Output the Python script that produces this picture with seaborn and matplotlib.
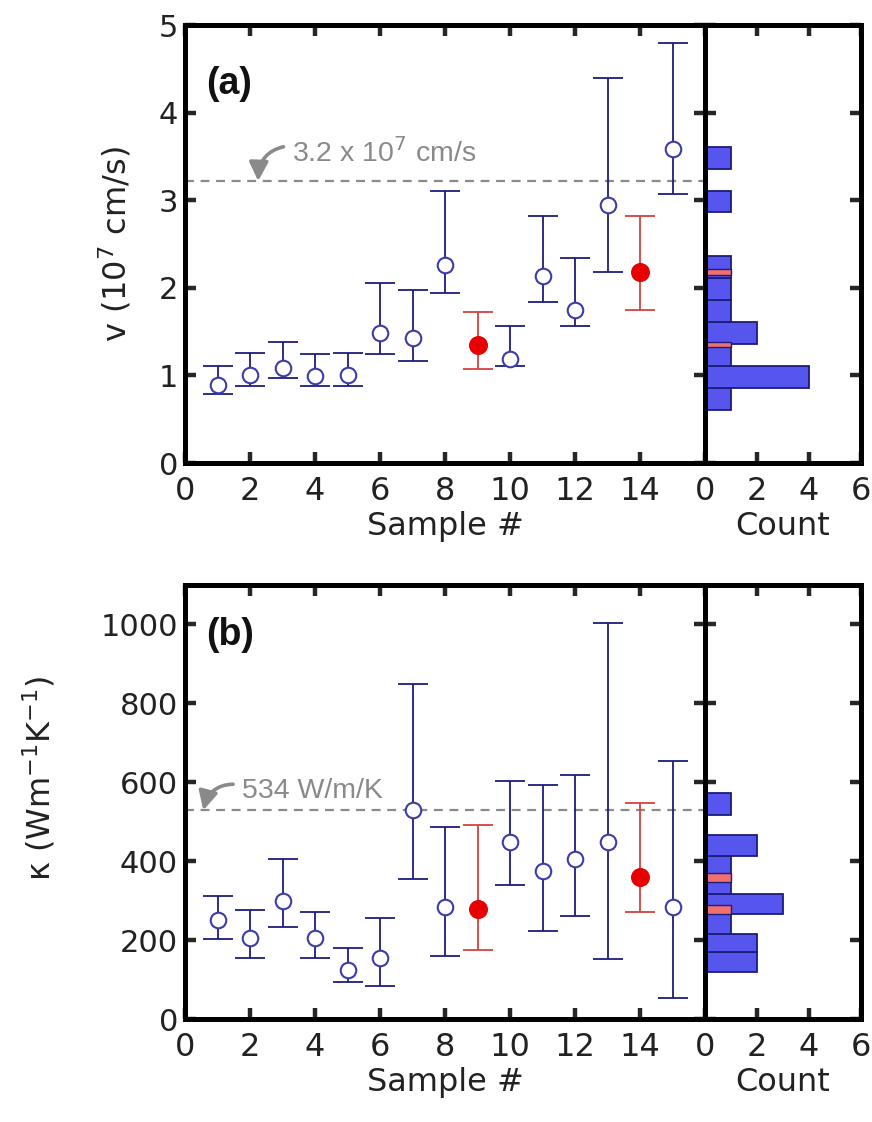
import matplotlib
matplotlib.use("Agg")
import matplotlib.pyplot as plt
import seaborn as sns
import numpy as np
import pandas as pd

# samples
sample = list(range(1, 16))
is_red = [False] * 8 + [True] + [False] * 4 + [True] + [False]

# (a) velocity, 10^7 cm/s
v = [0.89, 1.00, 1.09, 0.99, 1.00, 1.48, 1.43, 2.26, 1.35, 1.19, 2.13, 1.75, 2.95, 2.18, 3.58]
v_hi = [1.11, 1.26, 1.38, 1.24, 1.26, 2.05, 1.97, 3.10, 1.72, 1.56, 2.82, 2.34, 4.39, 2.82, 4.80]
v_lo = [0.79, 0.88, 0.97, 0.88, 0.88, 1.24, 1.16, 1.94, 1.07, 1.11, 1.84, 1.57, 2.18, 1.75, 3.07]
v_ref = 3.22

# (b) thermal conductivity, W/m/K
k = [251, 206, 300, 206, 125, 155, 529, 285, 278, 449, 374, 406, 449, 359, 285]
k_hi = [312, 276, 406, 271, 179, 257, 848, 487, 491, 604, 593, 619, 1003, 548, 654]
k_lo = [202, 155, 232, 155, 94, 84, 355, 159, 176, 340, 223, 261, 151, 272, 53]
k_ref = 529

# histograms (blue samples only)
v_edges = [0.61, 0.86, 1.11, 1.36, 1.61, 1.86, 2.11, 2.36, 2.61, 2.86, 3.11, 3.36, 3.61]
v_counts = [1, 4, 1, 2, 1, 1, 1, 0, 0, 1, 0, 1]
k_edges = [118, 170, 216, 265, 317, 366, 414, 467, 516, 574]
k_counts = [2, 2, 1, 3, 1, 1, 2, 0, 1]

sns.set_theme(style="ticks")
plt.rcParams['font.family'] = ['DejaVu Sans']
plt.rcParams['mathtext.fontset'] = 'dejavusans'

NAVY = "#1c1c7a"
CIRC = "#3c3ca8"
RED = "#e60000"
RED_BAR = "#d84040"
HIST = "#5656ee"
STRIPE = "#f07070"
GRAY = "#8a8a8a"
TXT = "#222222"
XFS = 23
YFS = 22
LFS = 23

fig = plt.figure(figsize=(8.72, 11.22), dpi=100)

def style(ax):
    for s in ax.spines.values():
        s.set_linewidth(3.6)
        s.set_color("black")
    ax.tick_params(direction="in", top=True, right=True, length=8, width=3.2,
                   labelcolor=TXT)
    ax.tick_params(axis="x", pad=9, labelsize=XFS)
    ax.tick_params(axis="y", pad=5, labelsize=YFS)

def main_panel(ax, y, lo, hi, ylim, yticks, ylabel, ylab_xy, ref, reftext, txt_xy, arrow_x, tag, tag_y):
    df = pd.DataFrame({"s": sample, "y": y, "lo": lo, "hi": hi, "red": is_red})
    for red, sub in df.groupby("red"):
        ax.errorbar(sub["s"], sub["y"], yerr=[sub["y"] - sub["lo"], sub["hi"] - sub["y"]],
                    fmt="none", ecolor=RED_BAR if red else NAVY, elinewidth=1.3,
                    capsize=11, capthick=1.3, zorder=2)
    sns.scatterplot(data=df[~df["red"]], x="s", y="y", ax=ax, marker="o", s=125,
                    facecolor="white", edgecolor=CIRC, linewidth=1.5, zorder=3, legend=False)
    sns.scatterplot(data=df[df["red"]], x="s", y="y", ax=ax, marker="o", s=160,
                    color=RED, edgecolor=RED, zorder=3, legend=False)
    ax.axhline(ref, color=GRAY, ls=(0, (4, 3)), lw=1.6, zorder=1)
    ax.annotate(reftext, xy=(arrow_x, ref), xytext=txt_xy, fontsize=20.5,
                color=GRAY, family="Liberation Sans", va="center", ha="left",
                arrowprops=dict(arrowstyle="-|>,head_width=0.28,head_length=0.55",
                                color=GRAY, lw=2.6, shrinkA=4, shrinkB=0,
                                relpos=(0, 0.75),
                                connectionstyle="arc3,rad=0.45"))
    ax.text(0.04, tag_y, tag, transform=ax.transAxes, fontsize=27, fontweight="bold",
            family="Liberation Sans", color="#111111", va="center")
    ax.set_xlim(0, 16)
    ax.set_xticks(range(0, 16, 2))
    ax.set_ylim(*ylim)
    ax.set_yticks(yticks)
    ax.set_xlabel("Sample #", fontsize=LFS, color=TXT, labelpad=3)
    ax.set_ylabel(ylabel, fontsize=LFS, color=TXT)
    ax.yaxis.set_label_coords(*ylab_xy)
    style(ax)

def hist_panel(ax, edges, counts, reds, stripe_h, ylim, yticks):
    e = np.array(edges)
    centers = (e[:-1] + e[1:]) / 2
    sns.histplot(y=centers, weights=counts, bins=edges, ax=ax, color=HIST,
                 edgecolor=NAVY, linewidth=1.3, alpha=1)
    ax.barh(reds, 1, height=stripe_h, color=STRIPE, edgecolor=NAVY, linewidth=1.0)
    ax.set_xlim(0, 6)
    ax.set_xticks([0, 2, 4, 6])
    ax.set_ylim(*ylim)
    ax.set_yticks(yticks)
    ax.set_xlabel("Count", fontsize=LFS, color=TXT, labelpad=3)
    ax.set_ylabel("")
    style(ax)
    ax.tick_params(labelleft=False)

v_red = [val for val, r in zip(v, is_red) if r]
k_red = [val for val, r in zip(k, is_red) if r]

# panel (a)
ax1 = fig.add_axes([0.2122, 0.5873, 0.5963, 0.3904])
main_panel(ax1, v, v_lo, v_hi, (0, 5), range(0, 6), "v (10$^7$ cm/s)", (-0.10, 0.50),
           v_ref, "3.2 x 10$^7$ cm/s", (3.3, 3.54), 2.25, "(a)", 0.865)
ax2 = fig.add_axes([0.8085, 0.5873, 0.1789, 0.3904])
hist_panel(ax2, v_edges, v_counts, v_red, 0.06, (0, 5), range(0, 6))

# panel (b)
ax3 = fig.add_axes([0.2122, 0.0918, 0.5963, 0.3868])
main_panel(ax3, k, k_lo, k_hi, (0, 1100), range(0, 1001, 200), "κ (Wm$^{-1}$K$^{-1}$)",
           (-0.245, 0.555), k_ref, "534 W/m/K", (1.75, 577), 0.56, "(b)", 0.885)
ax4 = fig.add_axes([0.8085, 0.0918, 0.1789, 0.3868])
hist_panel(ax4, k_edges, k_counts, k_red, 22, (0, 1100), range(0, 1001, 200))

fig.savefig("out.png", dpi=100)
